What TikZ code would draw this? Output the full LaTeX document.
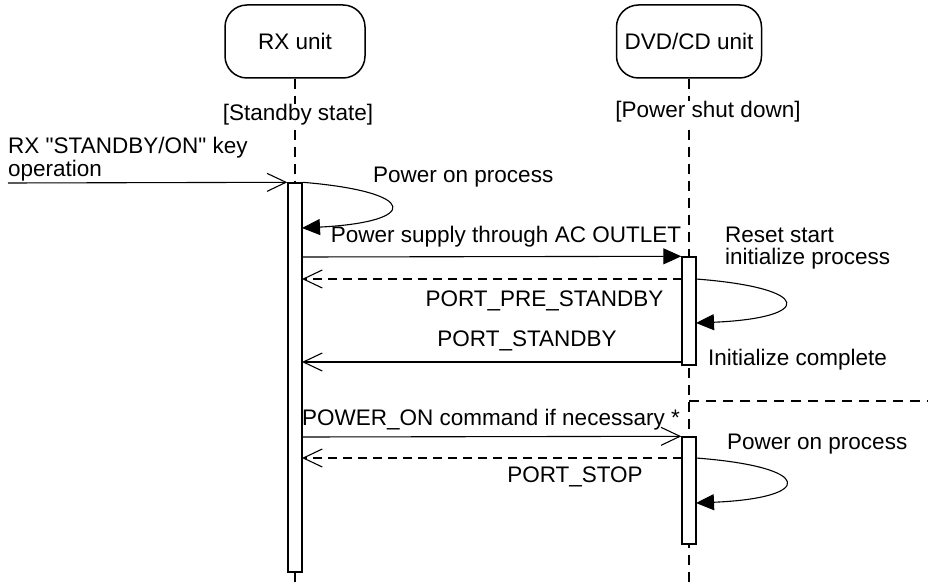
\documentclass[tikz,border=0pt]{standalone}
\usepackage{fontspec}
\setmainfont[Ligatures=TeXOff]{Liberation Sans}
\usetikzlibrary{arrows.meta, positioning, calc}

\begin{document}
\begin{tikzpicture}[
    x=1pt, y=1pt,
    font=\fontsize{22.5}{22.5}\selectfont,
    unit/.style={draw, line width=1.5pt, rounded corners=22pt, minimum width=140pt, minimum height=73pt},
    lifeline/.style={line width=1.1pt, dash pattern=on 10pt off 7pt},
    statelbl/.style={fill=white, inner sep=1pt},
    actbar/.style={draw, fill=white, line width=1.4pt, minimum width=14pt, inner sep=0pt},
    call/.style={-{Triangle[length=18pt,width=16pt]}, line width=1.1pt},
    signal/.style={-{Straight Barb[length=19pt,width=18pt]}, line width=1.1pt},
    reply/.style={signal, dash pattern=on 9pt off 6pt},
    note/.style={align=left, inner sep=0pt},
]
\useasboundingbox (0,0) rectangle (928,584);

% Units and lifelines
\node[unit] (rx) at (295,542.5) {RX unit};
\node[unit, minimum width=145pt] (dvd) at (689,542.5) {DVD/CD unit};
\coordinate (rxend) at (295,0);
\coordinate (dvdend) at (689,0);
\draw[lifeline] (rx.south) -- (rxend);
\draw[lifeline] (dvd.south) -- (dvdend);

\node[statelbl] (rxstate) at (298,469) {[Standby state]};
\node[statelbl] (dvdstate) at (708,472) {[Power shut down]};

% Activation bars
\node[actbar, minimum height=389pt] (rxbar) at (295,206.5) {};
\node[actbar, minimum height=108pt] (dvdbarA) at (689,273) {};
\node[actbar, minimum height=107pt] (dvdbarB) at (689,93.5) {};

% Key operation
\coordinate (keyin) at (8,401);
\draw[signal] (keyin) -- (rxbar.north west);
\node[note, anchor=north west] (keylbl) at (8,447) {RX "STANDBY/ON" key\\operation};

% RX power on
\coordinate (rxon) at (302,356);
\draw[call] (rxbar.north east) .. controls (420,392) and (420,362) .. (rxon);
\node[note, anchor=west] (rxonlbl) at (373,407) {Power on process};

% Power supply
\coordinate (acout) at (302,327);
\draw[call] (acout) -- (dvdbarA.north west);
\node[note] (aclbl) at (506,347) {Power supply through AC OUTLET};

% Reset / initialize
\coordinate (preA) at (682,305);
\coordinate (preB) at (302,305);
\draw[reply] (preA) -- (preB);
\node[note] (prelbl) at (544.5,283) {PORT\_PRE\_STANDBY};

\coordinate (initA) at (696,305);
\coordinate (initB) at (696,261);
\draw[call] (initA) .. controls (814,296) and (814,266) .. (initB);
\node[note, anchor=west] (resetlbl) at (725,336) {Reset start\\initialize process};

\coordinate (stbA) at (682,222);
\coordinate (stbB) at (302,222);
\draw[signal] (stbA) -- (stbB);
\node[note] (stblbl) at (527,243) {PORT\_STANDBY};
\node[note, anchor=west] (donelbl) at (708,224) {Initialize complete};

% Separator
\coordinate (sepA) at (689,183);
\coordinate (sepB) at (928,183);
\draw[lifeline] (sepA) -- (sepB);

% Power on command
\coordinate (cmd) at (302,147);
\draw[signal] (cmd) -- (dvdbarB.north west);
\node[note] (cmdlbl) at (491,164) {POWER\_ON command if necessary *};

\coordinate (stopA) at (682,126);
\coordinate (stopB) at (302,126);
\draw[reply] (stopA) -- (stopB);
\node[note] (stoplbl) at (575,107) {PORT\_STOP};

\coordinate (dvdonA) at (696,126);
\coordinate (dvdonB) at (696,81);
\draw[call] (dvdonA) .. controls (815,117) and (815,86) .. (dvdonB);
\node[note, anchor=west] (dvdonlbl) at (727,140) {Power on process};

\end{tikzpicture}
\end{document}
